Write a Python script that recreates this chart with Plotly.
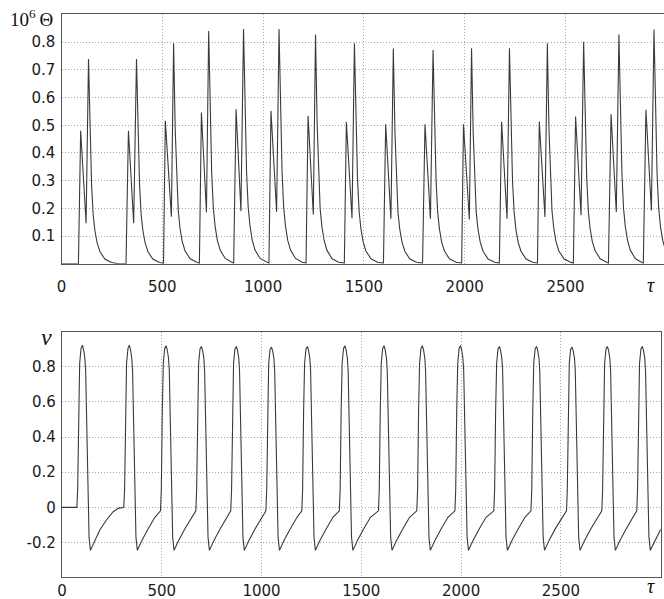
import plotly.graph_objects as go

# ---------------- data ----------------
# top panel: 10^6 * Theta versus tau  (one line per burst)
THETA_TAU = [
    0, 84, 95, 122, 134, 142, 149, 157, 166, 177, 191, 216, 249, 284,
    320, 332, 358, 372, 380, 387, 395, 404, 415, 429, 454, 487,
    506, 515, 545, 556, 564, 571, 579, 588, 599, 613, 638, 671,
    684, 694, 719, 730, 738, 745, 753, 762, 773, 787, 812, 845,
    854, 866, 890, 903, 911, 918, 926, 935, 946, 960, 985, 1018,
    1029, 1039, 1067, 1079, 1087, 1094, 1102, 1111, 1122, 1136, 1161, 1194,
    1213, 1223, 1249, 1260, 1268, 1275, 1283, 1292, 1303, 1317, 1342, 1375,
    1403, 1413, 1441, 1453, 1461, 1468, 1476, 1485, 1496, 1510, 1535, 1568,
    1597, 1608, 1634, 1646, 1654, 1661, 1669, 1678, 1689, 1703, 1728, 1761,
    1791, 1803, 1830, 1843, 1851, 1858, 1866, 1875, 1886, 1900, 1925, 1958,
    1985, 1994, 2023, 2034, 2042, 2049, 2057, 2066, 2077, 2091, 2116, 2149,
    2172, 2183, 2210, 2222, 2230, 2237, 2245, 2254, 2265, 2279, 2304, 2337,
    2361, 2370, 2398, 2410, 2418, 2425, 2433, 2442, 2453, 2467, 2492, 2525,
    2539, 2550, 2577, 2590, 2598, 2605, 2613, 2622, 2633, 2647, 2672, 2705,
    2713, 2726, 2752, 2765, 2773, 2780, 2788, 2797, 2808, 2822, 2847, 2880,
    2886, 2899, 2926, 2939, 2947, 2954, 2962, 2971, 2982, 2996,
]
THETA_VAL = [
    0, 0, 0.480, 0.146, 0.739, 0.451, 0.288, 0.177, 0.118, 0.074, 0.043, 0.016, 0.004, 0.0,
    0, 0.480, 0.146, 0.739, 0.451, 0.288, 0.177, 0.118, 0.074, 0.043, 0.016, 0.004,
    0.002, 0.516, 0.170, 0.796, 0.486, 0.310, 0.191, 0.127, 0.080, 0.046, 0.018, 0.005,
    0.002, 0.546, 0.186, 0.841, 0.513, 0.328, 0.202, 0.135, 0.084, 0.049, 0.019, 0.005,
    0.002, 0.558, 0.190, 0.848, 0.517, 0.331, 0.204, 0.136, 0.085, 0.049, 0.019, 0.005,
    0.002, 0.552, 0.188, 0.848, 0.517, 0.331, 0.204, 0.136, 0.085, 0.049, 0.019, 0.005,
    0.002, 0.534, 0.178, 0.828, 0.505, 0.323, 0.199, 0.132, 0.083, 0.048, 0.018, 0.005,
    0.002, 0.512, 0.164, 0.796, 0.486, 0.310, 0.191, 0.127, 0.080, 0.046, 0.018, 0.005,
    0.002, 0.504, 0.162, 0.777, 0.474, 0.303, 0.186, 0.124, 0.078, 0.045, 0.017, 0.005,
    0.002, 0.504, 0.162, 0.772, 0.471, 0.301, 0.185, 0.124, 0.077, 0.045, 0.017, 0.005,
    0.002, 0.504, 0.160, 0.778, 0.475, 0.303, 0.187, 0.124, 0.078, 0.045, 0.017, 0.005,
    0.002, 0.513, 0.162, 0.778, 0.475, 0.303, 0.187, 0.124, 0.078, 0.045, 0.017, 0.005,
    0.002, 0.514, 0.169, 0.796, 0.486, 0.310, 0.191, 0.127, 0.080, 0.046, 0.018, 0.005,
    0.002, 0.532, 0.175, 0.802, 0.489, 0.313, 0.192, 0.128, 0.080, 0.047, 0.018, 0.005,
    0.002, 0.540, 0.187, 0.828, 0.505, 0.323, 0.199, 0.132, 0.083, 0.048, 0.018, 0.005,
    0.002, 0.556, 0.192, 0.846, 0.516, 0.330, 0.203, 0.135, 0.085, 0.049,
]

# bottom panel: membrane variable v versus tau (one line per spike)
V_TAU = [
    0, 75, 79, 84, 89, 96, 103, 109, 115, 119, 124, 130, 136, 143, 151, 165, 190, 223, 257, 282, 307,
    310, 314, 319, 324, 331, 338, 344, 350, 354, 359, 365, 371, 378, 386, 400, 433, 466,
    494, 498, 503, 508, 515, 522, 528, 534, 538, 543, 549, 555, 562, 570, 584, 617, 650,
    671, 675, 680, 685, 692, 699, 705, 711, 715, 720, 726, 732, 739, 747, 761, 794, 827,
    846, 850, 855, 860, 867, 874, 880, 886, 890, 895, 901, 907, 914, 922, 936, 969, 1002,
    1022, 1026, 1031, 1036, 1043, 1050, 1056, 1062, 1066, 1071, 1077, 1083, 1090, 1098, 1112, 1145, 1178,
    1202, 1206, 1211, 1216, 1223, 1230, 1236, 1242, 1246, 1251, 1257, 1263, 1270, 1278, 1292, 1325, 1358,
    1390, 1394, 1399, 1404, 1411, 1418, 1424, 1430, 1434, 1439, 1445, 1451, 1458, 1466, 1480, 1513, 1546,
    1586, 1590, 1595, 1600, 1607, 1614, 1620, 1626, 1630, 1635, 1641, 1647, 1654, 1662, 1676, 1709, 1742,
    1778, 1782, 1787, 1792, 1799, 1806, 1812, 1818, 1822, 1827, 1833, 1839, 1846, 1854, 1868, 1901, 1934,
    1969, 1973, 1978, 1983, 1990, 1997, 2003, 2009, 2013, 2018, 2024, 2030, 2037, 2045, 2059, 2092, 2125,
    2164, 2168, 2173, 2178, 2185, 2192, 2198, 2204, 2208, 2213, 2219, 2225, 2232, 2240, 2254, 2287, 2320,
    2350, 2354, 2359, 2364, 2371, 2378, 2384, 2390, 2394, 2399, 2405, 2411, 2418, 2426, 2440, 2473, 2506,
    2528, 2532, 2537, 2542, 2549, 2556, 2562, 2568, 2572, 2577, 2583, 2589, 2596, 2604, 2618, 2651, 2684,
    2705, 2709, 2714, 2719, 2726, 2733, 2739, 2745, 2749, 2754, 2760, 2766, 2773, 2781, 2795, 2828, 2861,
    2880, 2884, 2889, 2894, 2901, 2908, 2914, 2920, 2924, 2929, 2935, 2941, 2948, 2956, 2970, 3000,
]
V_VAL = [
    0, 0, 0.1, 0.55, 0.82, 0.905, 0.923, 0.895, 0.85, 0.78, 0.45, 0.05, -0.17, -0.245, -0.225, -0.186, -0.129, -0.072, -0.025, -0.006, -0.001,
    0, 0.1, 0.55, 0.82, 0.905, 0.923, 0.895, 0.85, 0.78, 0.45, 0.05, -0.17, -0.245, -0.225, -0.19, -0.12, -0.057,
    -0.02, 0.1, 0.55, 0.82, 0.905, 0.920, 0.895, 0.85, 0.78, 0.45, 0.05, -0.17, -0.245, -0.225, -0.19, -0.12, -0.057,
    -0.02, 0.1, 0.55, 0.82, 0.902, 0.916, 0.892, 0.85, 0.78, 0.45, 0.05, -0.17, -0.245, -0.225, -0.19, -0.12, -0.057,
    -0.02, 0.1, 0.55, 0.82, 0.902, 0.916, 0.892, 0.85, 0.78, 0.45, 0.05, -0.17, -0.245, -0.225, -0.19, -0.12, -0.057,
    -0.02, 0.1, 0.55, 0.82, 0.900, 0.912, 0.890, 0.85, 0.78, 0.45, 0.05, -0.17, -0.245, -0.225, -0.19, -0.12, -0.057,
    -0.02, 0.1, 0.55, 0.82, 0.902, 0.916, 0.892, 0.85, 0.78, 0.45, 0.05, -0.17, -0.245, -0.225, -0.19, -0.12, -0.057,
    -0.02, 0.1, 0.55, 0.82, 0.905, 0.920, 0.895, 0.85, 0.78, 0.45, 0.05, -0.17, -0.245, -0.225, -0.19, -0.12, -0.057,
    -0.02, 0.1, 0.55, 0.82, 0.905, 0.920, 0.895, 0.85, 0.78, 0.45, 0.05, -0.17, -0.245, -0.225, -0.19, -0.12, -0.057,
    -0.02, 0.1, 0.55, 0.82, 0.905, 0.920, 0.895, 0.85, 0.78, 0.45, 0.05, -0.17, -0.245, -0.225, -0.19, -0.12, -0.057,
    -0.02, 0.1, 0.55, 0.82, 0.905, 0.921, 0.895, 0.85, 0.78, 0.45, 0.05, -0.17, -0.245, -0.225, -0.19, -0.12, -0.057,
    -0.02, 0.1, 0.55, 0.82, 0.902, 0.916, 0.892, 0.85, 0.78, 0.45, 0.05, -0.17, -0.245, -0.225, -0.19, -0.12, -0.057,
    -0.02, 0.1, 0.55, 0.82, 0.902, 0.916, 0.892, 0.85, 0.78, 0.45, 0.05, -0.17, -0.245, -0.225, -0.19, -0.12, -0.057,
    -0.02, 0.1, 0.55, 0.82, 0.900, 0.912, 0.890, 0.85, 0.78, 0.45, 0.05, -0.17, -0.245, -0.225, -0.19, -0.12, -0.057,
    -0.02, 0.1, 0.55, 0.82, 0.902, 0.916, 0.892, 0.85, 0.78, 0.45, 0.05, -0.17, -0.245, -0.225, -0.19, -0.12, -0.057,
    -0.02, 0.1, 0.55, 0.82, 0.902, 0.916, 0.892, 0.85, 0.78, 0.45, 0.05, -0.17, -0.245, -0.225, -0.19, -0.125,
]

X_TICKS = [0, 500, 1000, 1500, 2000, 2500]
X_TICK_TEXT = ["0", "500", "1000", "1500", "2000", "2500"]
THETA_TICKS = [0.1, 0.2, 0.3, 0.4, 0.5, 0.6, 0.7, 0.8]
THETA_TICK_TEXT = ["0.1", "0.2", "0.3", "0.4", "0.5", "0.6", "0.7", "0.8"]
V_TICKS = [-0.2, 0, 0.2, 0.4, 0.6, 0.8]
V_TICK_TEXT = ["-0.2", "0", "0.2", "0.4", "0.6", "0.8"]

# ---------------- figure ----------------
W, H = 664, 599
LINE = "#3a3a3a"
TICKFONT = dict(family="DejaVu Sans", size=15, color="#1a1a1a")
SERIF = "Liberation Serif"

fig = go.Figure()
fig.add_trace(go.Scatter(x=THETA_TAU, y=THETA_VAL, mode="lines",
                         line=dict(color=LINE, width=1.1), xaxis="x", yaxis="y",
                         hoverinfo="skip"))
fig.add_trace(go.Scatter(x=V_TAU, y=V_VAL, mode="lines",
                         line=dict(color=LINE, width=1.1), xaxis="x2", yaxis="y2",
                         hoverinfo="skip"))

common = dict(showgrid=True, gridcolor="#a8a8a8", griddash="1px,2px", gridwidth=1,
              showline=True, linecolor="#555555", linewidth=1.2, mirror=True,
              zeroline=False, ticks="", tickfont=TICKFONT, automargin=False,
              fixedrange=True)

fig.update_layout(
    width=W, height=H,
    margin=dict(l=0, r=0, t=0, b=0),
    paper_bgcolor="white", plot_bgcolor="white",
    showlegend=False,
    xaxis=dict(domain=[61.5 / W, 1.0], range=[0, 2988.6], anchor="y",
               tickmode="array", tickvals=X_TICKS, ticktext=X_TICK_TEXT,
               ticklabelstandoff=9, **common),
    yaxis=dict(domain=[1 - 263.7 / H, 1 - 14 / H], range=[0, 0.902], anchor="x",
               tickmode="array", tickvals=THETA_TICKS, ticktext=THETA_TICK_TEXT,
               ticklabelstandoff=2, **common),
    xaxis2=dict(domain=[61.9 / W, 660.7 / W], range=[0, 3000], anchor="y2",
                tickmode="array", tickvals=X_TICKS, ticktext=X_TICK_TEXT,
                ticklabelstandoff=0, **common),
    yaxis2=dict(domain=[1 - 576.7 / H, 1 - 331.7 / H], range=[-0.395, 1.0], anchor="x2",
                tickmode="array", tickvals=V_TICKS, ticktext=V_TICK_TEXT,
                ticklabelstandoff=2, **common),
)

annotations = [
    dict(text="10<sup>6</sup>\u2009\u0398", x=8 / W, y=1 - 18 / H, xref="paper", yref="paper",
         xanchor="left", yanchor="middle", showarrow=False,
         font=dict(family=SERIF, size=19, color="#111111")),
    dict(text="<i>v</i>", x=46.5 / W, y=1 - 337 / H, xref="paper", yref="paper",
         xanchor="center", yanchor="middle", showarrow=False,
         font=dict(family=SERIF, size=24, color="#111111")),
    dict(text="<i>\u03c4</i>", x=650.5 / W, y=1 - 285 / H, xref="paper", yref="paper",
         xanchor="center", yanchor="middle", showarrow=False,
         font=dict(family=SERIF, size=20, color="#111111")),
    dict(text="<i>\u03c4</i>", x=650.5 / W, y=1 - 586 / H, xref="paper", yref="paper",
         xanchor="center", yanchor="middle", showarrow=False,
         font=dict(family=SERIF, size=20, color="#111111")),
]
fig.update_layout(annotations=annotations)

fig.write_html("out.html", config={"displayModeBar": False},
               post_script="document.body.style.margin='0';"
                           "document.body.style.overflow='hidden';")
